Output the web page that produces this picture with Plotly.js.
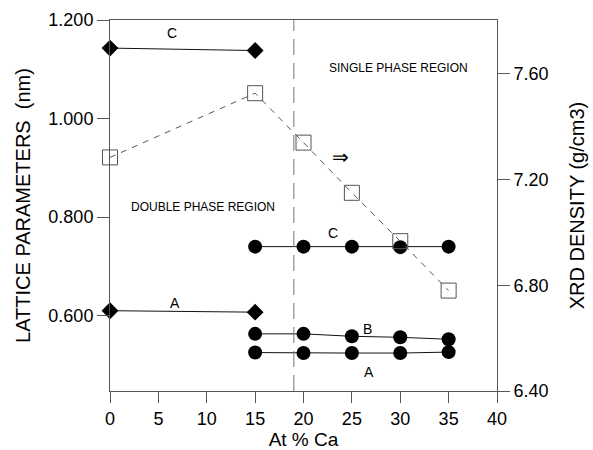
<!DOCTYPE html>
<html>
<head>
<meta charset="utf-8">
<script src="https://cdn.plot.ly/plotly-3.0.1.min.js"></script>
<style>html,body{margin:0;padding:0;background:#fff;}#chart{width:593px;height:450px;}</style>
</head>
<body>
<div id="chart"></div>
<script>
// Double phase region (diamonds)
const xDouble = [0, 15];
const cDouble = [1.143, 1.138];
const aDouble = [0.610, 0.607];

// Single phase region (filled circles)
const xSingle = [15, 20, 25, 30, 35];
const cSingle = [0.740, 0.740, 0.740, 0.739, 0.740];
const bSingle = [0.563, 0.563, 0.558, 0.556, 0.552];
const aSingle = [0.525, 0.524, 0.524, 0.524, 0.526];

// XRD density (open squares, right axis)
const xDensity = [0, 15, 20, 25, 30, 35];
const density = [7.284, 7.527, 7.340, 7.150, 6.967, 6.780];

const xTicks = [0, 5, 10, 15, 20, 25, 30, 35, 40];
const leftTicks = [0.6, 0.8, 1.0, 1.2];
const rightTicks = [6.4, 6.8, 7.2, 7.6];
const phaseBoundary = 19;

const FONT = 'Liberation Sans, Arial, sans-serif';
const lineStyle = {color: '#111', width: 1};

const traces = [
  {x: xDouble, y: cDouble, mode: 'lines+markers', type: 'scatter', cliponaxis: false,
   line: lineStyle, marker: {symbol: 'diamond', size: 13, color: '#000'}},
  {x: xDouble, y: aDouble, mode: 'lines+markers', type: 'scatter', cliponaxis: false,
   line: lineStyle, marker: {symbol: 'diamond', size: 13, color: '#000'}},
  {x: xSingle, y: cSingle, mode: 'lines+markers', type: 'scatter', cliponaxis: false,
   line: lineStyle, marker: {symbol: 'circle', size: 14, color: '#000'}},
  {x: xSingle, y: bSingle, mode: 'lines+markers', type: 'scatter', cliponaxis: false,
   line: lineStyle, marker: {symbol: 'circle', size: 14, color: '#000'}},
  {x: xSingle, y: aSingle, mode: 'lines+markers', type: 'scatter', cliponaxis: false,
   line: lineStyle, marker: {symbol: 'circle', size: 14, color: '#000'}},
  {x: xDensity, y: density, yaxis: 'y2', mode: 'lines+markers', type: 'scatter', cliponaxis: false,
   line: {color: '#555', width: 1, dash: '6px,6px'},
   marker: {symbol: 'square-open', size: 15, color: '#555', line: {width: 1, color: '#555'}}}
];

const ann = (x, y, text, size) => ({x: x, y: y, xref: 'x', yref: 'y', text: text,
  showarrow: false, font: {family: FONT, size: size || 13, color: '#000'}});

const layout = {
  width: 593, height: 450,
  margin: {l: 110, r: 96, t: 20, b: 59},
  paper_bgcolor: '#fff', plot_bgcolor: '#fff',
  showlegend: false,
  font: {family: FONT, size: 17, color: '#000'},
  xaxis: {
    range: [0, 40], tickvals: xTicks, ticktext: xTicks.map(String),
    showgrid: false, zeroline: false,
    showline: true, linecolor: '#555', linewidth: 1, mirror: true,
    ticks: 'outside', ticklen: 11, tickcolor: '#555',
    tickfont: {family: FONT, size: 18},
    title: {text: 'At % Ca', font: {family: FONT, size: 19}, standoff: 4}
  },
  yaxis: {
    range: [0.447, 1.2], tickvals: leftTicks, ticktext: leftTicks.map(v => v.toFixed(3)),
    showgrid: false, zeroline: false,
    showline: true, linecolor: '#555', linewidth: 1,
    ticks: 'outside', ticklen: 12, tickcolor: '#555',
    tickfont: {family: FONT, size: 18},
    title: {text: 'LATTICE PARAMETERS  (nm)', font: {family: FONT, size: 20}, standoff: 12}
  },
  yaxis2: {
    overlaying: 'y', side: 'right',
    range: [6.4, 7.804], tickvals: rightTicks, ticktext: rightTicks.map(v => v.toFixed(2)),
    showgrid: false, zeroline: false,
    showline: true, linecolor: '#555', linewidth: 1,
    ticks: 'outside', ticklen: 12, tickcolor: '#555',
    tickfont: {family: FONT, size: 18},
    title: {text: 'XRD DENSITY (g/cm3)', font: {family: FONT, size: 20}, standoff: 22}
  },
  shapes: [
    {type: 'line', xref: 'x', yref: 'paper', x0: phaseBoundary, x1: phaseBoundary, y0: 0, y1: 1,
     line: {color: '#777', width: 1, dash: '16px,8px'}}
  ],
  annotations: [
    ann(6.4, 1.174, 'C', 14),
    ann(6.7, 0.626, 'A', 14),
    ann(23.1, 0.768, 'C', 14),
    ann(26.6, 0.572, 'B', 14),
    ann(26.8, 0.486, 'A', 14),
    ann(9.6, 0.820, 'DOUBLE PHASE REGION', 12),
    ann(29.8, 1.103, 'SINGLE PHASE REGION', 12),
    ann(23.8, 0.922, '\u21D2', 20)
  ]
};

Plotly.newPlot('chart', traces, layout, {displayModeBar: false, staticPlot: true});
</script>
</body>
</html>
